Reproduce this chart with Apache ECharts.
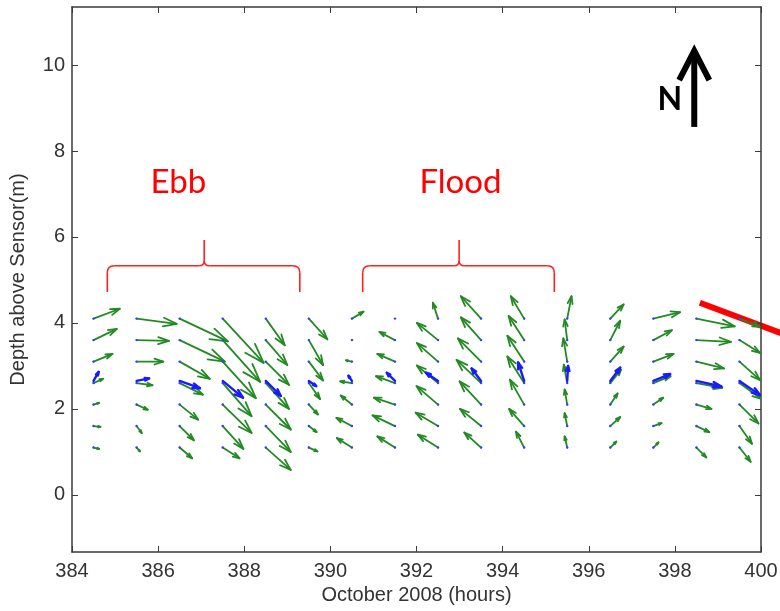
<!DOCTYPE html>
<html>
<head>
<meta charset="utf-8">
<script src="https://cdn.jsdelivr.net/npm/echarts@6/dist/echarts.min.js"></script>
<style>
  html, body { margin: 0; padding: 0; background: #fff; }
  #quiver { width: 780px; height: 611px; }
</style>
</head>
<body>
<div id="quiver"></div>
<script>
// time of each profile column (hours) and depth of each bin (m), top bin first
var hours = [384.5, 385.5, 386.5, 387.5, 388.5, 389.5, 390.5, 391.5,
  392.5, 393.5, 394.5, 395.5, 396.5, 397.5, 398.5, 399.5];
var depths = [4.1, 3.6, 3.1, 2.6, 2.1, 1.6, 1.1];

// east / north components per column (same order as depths), in axis units
var greenU = [
  [0.61, 0.54, 0.44, 0.22, 0.13, 0.16, 0.13],
  [0.93, 0.75, 0.62, 0.37, 0.26, 0.12, 0.08],
  [1.12, 1.05, 0.70, 0.54, 0.43, 0.33, 0.29],
  [0.95, 0.87, 0.77, 0.67, 0.67, 0.48, 0.39],
  [0.44, 0.50, 0.54, 0.54, 0.58, 0.58, 0.58],
  [0.43, 0.33, 0.33, 0.26, 0.21, 0.18, 0.20],
  [0.27, 0.01, -0.14, -0.27, -0.26, -0.36, -0.35],
  [0.00, -0.36, -0.41, -0.44, -0.49, -0.52, -0.41],
  [-0.12, -0.49, -0.49, -0.49, -0.50, -0.52, -0.47],
  [-0.47, -0.47, -0.54, -0.57, -0.50, -0.49, -0.39],
  [-0.31, -0.36, -0.39, -0.39, -0.33, -0.35, -0.19],
  [0.10, -0.06, -0.09, -0.08, -0.06, -0.06, -0.06],
  [0.31, 0.23, 0.31, 0.25, 0.17, 0.23, 0.14],
  [0.62, 0.43, 0.47, 0.40, 0.23, 0.19, 0.12],
  [0.89, 0.80, 0.64, 0.60, 0.35, 0.30, 0.23],
  [0.47, 0.48, 0.48, 0.51, 0.44, 0.29, 0.26]
];
var greenV = [
  [0.23, 0.26, 0.18, 0.10, 0.04, -0.02, -0.03],
  [-0.12, -0.02, 0.00, -0.05, -0.12, -0.16, -0.09],
  [-0.53, -0.50, -0.40, -0.27, -0.35, -0.33, -0.25],
  [-1.03, -0.97, -0.85, -0.77, -0.66, -0.53, -0.25],
  [-0.62, -0.58, -0.54, -0.60, -0.58, -0.60, -0.52],
  [-0.48, -0.58, -0.44, -0.37, -0.23, -0.14, -0.09],
  [0.16, 0.00, 0.03, 0.04, 0.21, 0.19, 0.22],
  [0.00, 0.19, 0.18, 0.16, 0.16, 0.25, 0.26],
  [0.37, 0.40, 0.43, 0.41, 0.43, 0.31, 0.30],
  [0.52, 0.53, 0.54, 0.54, 0.54, 0.40, 0.35],
  [0.52, 0.56, 0.60, 0.62, 0.58, 0.40, 0.37],
  [0.52, 0.48, 0.54, 0.43, 0.35, 0.30, 0.26],
  [0.33, 0.45, 0.35, 0.31, 0.26, 0.21, 0.14],
  [0.15, 0.23, 0.18, 0.16, 0.16, 0.07, 0.12],
  [-0.18, -0.04, -0.16, -0.11, -0.10, -0.14, -0.23],
  [-0.19, -0.30, -0.43, -0.37, -0.44, -0.41, -0.33]
];

// second (blue) set, one bin only
var blueDepth = 2.65;
var blueU = [0.12, 0.29, 0.47, 0.47, 0.35, 0.17, -0.08, -0.19,
  -0.28, -0.22, -0.14, 0.02, 0.23, 0.39, 0.58, 0.48];
var blueV = [0.21, 0.06, -0.17, -0.39, -0.35, -0.12, 0.12, 0.19,
  0.19, 0.29, 0.43, 0.35, 0.31, 0.16, -0.13, -0.33];

var xTicks = [384, 386, 388, 390, 392, 394, 396, 398, 400];
var yTicks = [0, 2, 4, 6, 8, 10];

var greenData = [];
hours.forEach(function (h, i) {
  depths.forEach(function (d, j) {
    greenData.push([h, d, greenU[i][j], greenV[i][j]]);
  });
});
var blueData = hours.map(function (h, i) {
  return [h, blueDepth, blueU[i], blueV[i]];
});

function arrowRenderer(color, width, tailDot) {
  return function (params, api) {
    var x = api.value(0), y = api.value(1);
    var p0 = api.coord([x, y]);
    var p1 = api.coord([x + api.value(2), y + api.value(3)]);
    var dx = p1[0] - p0[0], dy = p1[1] - p0[1];
    var a = 0.33, b = 0.33; // matlab style head
    var h1 = [p1[0] - a * (dx + b * dy), p1[1] - a * (dy - b * dx)];
    var h2 = [p1[0] - a * (dx - b * dy), p1[1] - a * (dy + b * dx)];
    var st = { stroke: color, lineWidth: width, fill: null, lineJoin: 'round', lineCap: 'round' };
    var kids = [
      { type: 'polyline', shape: { points: [p0, p1] }, style: st },
      { type: 'polyline', shape: { points: [h1, p1, h2] }, style: st }
    ];
    if (tailDot) {
      kids.push({ type: 'circle', shape: { cx: p0[0], cy: p0[1], r: 1.2 }, style: { fill: '#3040ff' } });
    }
    return { type: 'group', children: kids };
  };
}

var myChart = echarts.init(document.getElementById('quiver'));
var axisFont = { fontFamily: 'Liberation Sans, Arial', fontSize: 20, color: '#333' };
var frame = { show: true, onZero: false, lineStyle: { color: '#3a3a3a', width: 1.5 } };

myChart.setOption({
  animation: false,
  backgroundColor: '#fff',
  grid: { left: 72, right: 19, top: 7, bottom: 59, containLabel: false, outerBoundsMode: 'none' },
  xAxis: [
    {
      type: 'value', min: 384, max: 400, position: 'bottom',
      axisLine: frame,
      axisTick: { inside: true, length: 6, customValues: xTicks, lineStyle: { color: '#3a3a3a' } },
      axisLabel: Object.assign({ customValues: xTicks, margin: 9 }, axisFont),
      splitLine: { show: false },
      name: 'October 2008 (hours)', nameLocation: 'middle', nameGap: 33,
      nameTextStyle: axisFont
    },
    {
      type: 'value', min: 384, max: 400, position: 'top',
      axisLine: frame,
      axisTick: { inside: true, length: 6, customValues: xTicks, lineStyle: { color: '#3a3a3a' } },
      axisLabel: { show: false }, splitLine: { show: false }
    }
  ],
  yAxis: [
    {
      type: 'value', min: -1.33, max: 11.35, position: 'left',
      axisLine: frame,
      axisTick: { inside: true, length: 6, customValues: yTicks, lineStyle: { color: '#3a3a3a' } },
      axisLabel: Object.assign({ customValues: yTicks, margin: 7 }, axisFont),
      splitLine: { show: false },
      name: 'Depth above Sensor(m)', nameLocation: 'middle', nameGap: 44,
      nameTextStyle: axisFont
    },
    {
      type: 'value', min: -1.33, max: 11.35, position: 'right',
      axisLine: frame,
      axisTick: { inside: true, length: 6, customValues: yTicks, lineStyle: { color: '#3a3a3a' } },
      axisLabel: { show: false }, splitLine: { show: false }
    }
  ],
  series: [
    {
      name: 'green', type: 'custom', xAxisIndex: 0, yAxisIndex: 0, clip: true,
      renderItem: arrowRenderer('#228a22', 1.8, true), data: greenData
    },
    {
      name: 'blue', type: 'custom', xAxisIndex: 0, yAxisIndex: 0, clip: true,
      renderItem: arrowRenderer('#1a1aff', 2.4, false), data: blueData
    }
  ]
});

// annotations placed in data space
function px(x, y) { return myChart.convertToPixel({ gridIndex: 0 }, [x, y]); }

var braceStyle = { stroke: '#ff2020', lineWidth: 1.6, fill: null };
function seg(x1, y1, x2, y2) {
  return { type: 'line', shape: { x1: x1, y1: y1, x2: x2, y2: y2 }, style: braceStyle };
}
function curve(x1, y1, cx, cy, x2, y2) {
  return { type: 'bezierCurve', shape: { x1: x1, y1: y1, cpx1: cx, cpy1: cy, x2: x2, y2: y2 }, style: braceStyle };
}
function brace(x0, xm, x1) {
  var a = px(x0, 4.72), c = px(x1, 4.72), m = px(xm, 5.33), t = px(xm, 5.93);
  var yh = m[1], r = 7, s = 5;
  return [
    seg(a[0], a[1], a[0], yh + r),
    curve(a[0], yh + r, a[0], yh, a[0] + r, yh),
    seg(a[0] + r, yh, m[0] - s, yh),
    curve(m[0] - s, yh, m[0], yh, m[0], yh - s),
    seg(m[0], yh - s, m[0], t[1]),
    curve(m[0], yh - s, m[0], yh, m[0] + s, yh),
    seg(m[0] + s, yh, c[0] - r, yh),
    curve(c[0] - r, yh, c[0], yh, c[0], yh + r),
    seg(c[0], yh + r, c[0], c[1])
  ];
}

var ebbPos = px(386.47, 7.28), floodPos = px(393.02, 7.28);
var nTop = px(398.45, 10.33), nBot = px(398.45, 8.56), nHeadL = px(398.1, 9.65), nHeadR = px(398.8, 9.65);
var nText = px(397.88, 9.2);
var redA = px(398.58, 4.47), redB = px(400.9, 3.6);
var labelFont = { fontFamily: 'Lato, Open Sans, sans-serif', fontSize: 33, fill: '#ff0000', align: 'center', verticalAlign: 'middle' };

var marks = [].concat(
  brace(384.82, 387.07, 389.29),
  brace(390.75, 392.99, 395.2),
  [
    { type: 'text', x: ebbPos[0], y: ebbPos[1], style: Object.assign({ text: 'Ebb' }, labelFont) },
    { type: 'text', x: floodPos[0], y: floodPos[1], style: Object.assign({ text: 'Flood' }, labelFont) },
    { type: 'line', shape: { x1: nBot[0], y1: nBot[1], x2: nTop[0], y2: nTop[1] + 3 }, style: { stroke: '#000', lineWidth: 6 } },
    { type: 'polyline', shape: { points: [nHeadL, nTop, nHeadR] }, style: { stroke: '#000', lineWidth: 6, fill: null, lineJoin: 'miter' } },
    { type: 'text', x: nText[0], y: nText[1], style: { text: 'N', fontFamily: 'Lato, sans-serif', fontWeight: 'bold', fontSize: 32, fill: '#000', align: 'center', verticalAlign: 'middle' } },
    { type: 'line', shape: { x1: redA[0], y1: redA[1], x2: redB[0], y2: redB[1] }, style: { stroke: '#ff0000', lineWidth: 6 } }
  ]
);

myChart.setOption({ graphic: marks });

window.addEventListener('resize', function () { myChart.resize(); });
</script>
</body>
</html>
